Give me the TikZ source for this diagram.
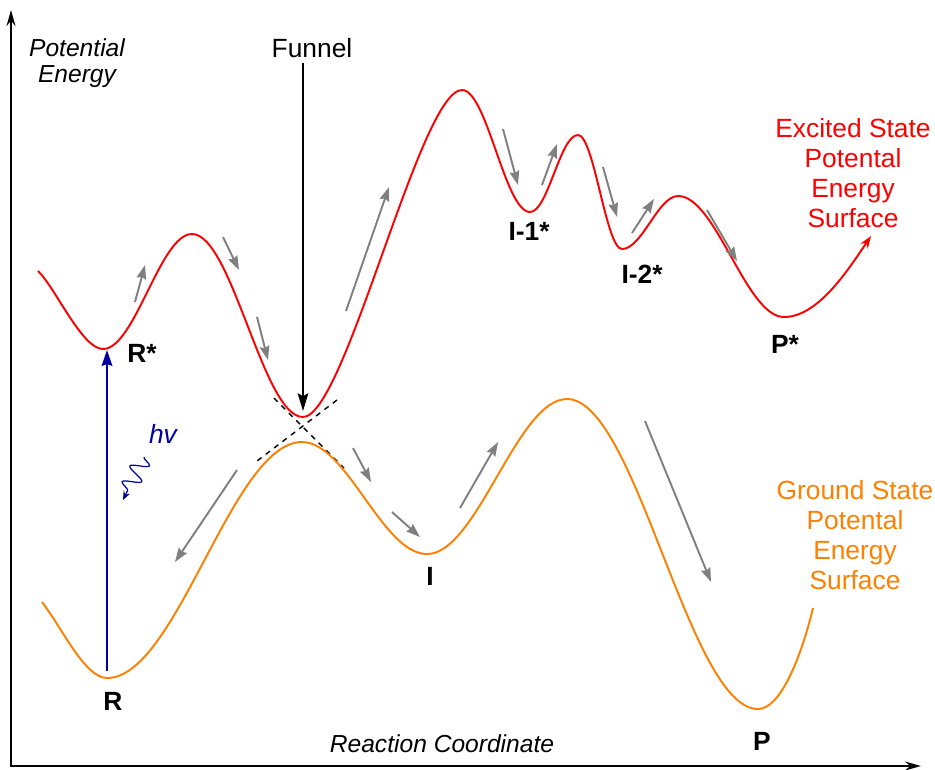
\documentclass[tikz,border=0pt]{standalone}
\usepackage{fontspec}
\setmainfont{Liberation Sans}
\usetikzlibrary{arrows.meta,decorations.pathmorphing}
\definecolor{esred}{HTML}{FF0000}
\definecolor{gsorange}{HTML}{FF8000}
\definecolor{hvblue}{HTML}{0000A0}
\definecolor{arrgray}{HTML}{808080}

\begin{document}
\begin{tikzpicture}[x=0.02cm,y=-0.02cm,
  lbl/.style={font=\fontsize{15}{17}\selectfont\bfseries,anchor=base},
  plain/.style={font=\fontsize{15}{17}\selectfont,anchor=base},
  surf/.style={font=\fontsize{15}{17}\selectfont,align=center},
  axlbl/.style={font=\fontsize{14}{14.8}\selectfont\itshape,align=center},
  excited/.style={draw=esred,line width=1.1pt},
  ground/.style={draw=gsorange,line width=1.1pt},
  garr/.style={-{Stealth[length=8pt,width=5.5pt,inset=1pt]},draw=arrgray,
               fill=arrgray,line width=1.1pt},
  axis/.style={line width=1.6pt,
               {Stealth[length=9pt,width=5pt]}-{Stealth[length=9pt,width=5pt]}},
  cross/.style={black,line width=0.8pt,dash pattern=on 3pt off 3pt}
]
  \useasboundingbox (0,0) rectangle (935,769);

  % ---- Axes ---------------------------------------------------
  \coordinate (O) at (11,766);
  \coordinate (ytop) at (11,10);
  \coordinate (xend) at (921,766);
  \draw[axis] (ytop) -- (O) -- (xend);

  \node[axlbl] (ylabel) at (77,63) {Potential\\Energy};
  \node[axlbl,anchor=base] (xlabel) at (442,752) {Reaction Coordinate};

  % ---- Conical intersection (funnel) --------------------------
  \draw[cross] (274,398) -- (344,468);
  \draw[cross] (337,400) -- (257,461);

  % ---- Excited state surface ----------------------------------
  \draw[excited,-{Stealth[length=7pt,width=5pt]}]
    (38,271) .. controls (55,287) and (82,349) .. (103,349)
    .. controls (135,349) and (160,234) .. (192,234)
    .. controls (232,234) and (263,417) .. (303,417)
    .. controls (345,417) and (420,90) .. (462,90)
    .. controls (487,90) and (505,212) .. (530,212)
    .. controls (548,212) and (560,135) .. (578,135)
    .. controls (594,135) and (606,249) .. (622,249)
    .. controls (642,249) and (658,196) .. (678,196)
    .. controls (716,196) and (746,317) .. (784,317)
    .. controls (818,317) and (848,270) .. (871,236);

  % ---- Ground state surface -----------------------------------
  \draw[ground]
    (42,602) .. controls (62,628) and (85,678) .. (107,678)
    .. controls (177,678) and (232,442) .. (302,442)
    .. controls (347,442) and (382,554) .. (427,554)
    .. controls (477,554) and (517,399) .. (567,399)
    .. controls (636,399) and (689,709) .. (758,709)
    .. controls (782,709) and (803,650) .. (813,608);

  % ---- Gray direction arrows ----------------------------------
  \foreach \sx/\sy/\ex/\ey in {135/302/145/265, 223/237/239/270,
      257/317/268/360, 346/311/389/187, 503/129/518/185,
      542/185/557/144, 603/167/617/217, 632/233/654/199,
      707/210/737/261, 237/470/175/562, 353/448/371/482,
      392/512/420/537, 460/508/498/442, 645/421/711/582}
    \draw[garr] (\sx,\sy) -- (\ex,\ey);

  % ---- Funnel -------------------------------------------------
  \node[plain] (funnel) at (312,57) {Funnel};
  \coordinate (fmin) at (303,411);
  \draw[line width=1.1pt,-{Stealth[length=10pt,width=6pt,inset=1.5pt]}]
    (funnel.south -| fmin) -- (fmin);

  % ---- Excitation ---------------------------------------------
  \coordinate (Rmin) at (107,671);
  \coordinate (Rsmin) at (107,350);
  \draw[hvblue,line width=1.3pt,-{Stealth[length=9pt,width=6pt,inset=1pt]}]
    (Rmin) -- (Rsmin);
  \node[plain,text=hvblue] (hv) at (163,443) {\itshape hv};
  \draw[hvblue,line width=0.7pt,decorate,
        decoration={snake,amplitude=5pt,segment length=10pt,post length=5pt},
        -{Stealth[length=5pt,width=4pt]}] (144,457) -- (123,500);

  % ---- State labels -------------------------------------------
  \node[lbl] (Rstar) at (142,362) {R*};
  \node[lbl] (R) at (113,710) {R};
  \node[lbl] (I) at (430,585) {I};
  \node[lbl] (Ione) at (529,240) {I-1*};
  \node[lbl] (Itwo) at (642,283) {I-2*};
  \node[lbl] (Pstar) at (785,353) {P*};
  \node[lbl] (P) at (762,750) {P};

  % ---- Surface names ------------------------------------------
  \node[surf,text=esred] (exlabel) at (853,173)
    {Excited State\\Potental\\Energy\\Surface};
  \node[surf,text=gsorange] (gslabel) at (855,535)
    {Ground State\\Potental\\Energy\\Surface};

\end{tikzpicture}
\end{document}
